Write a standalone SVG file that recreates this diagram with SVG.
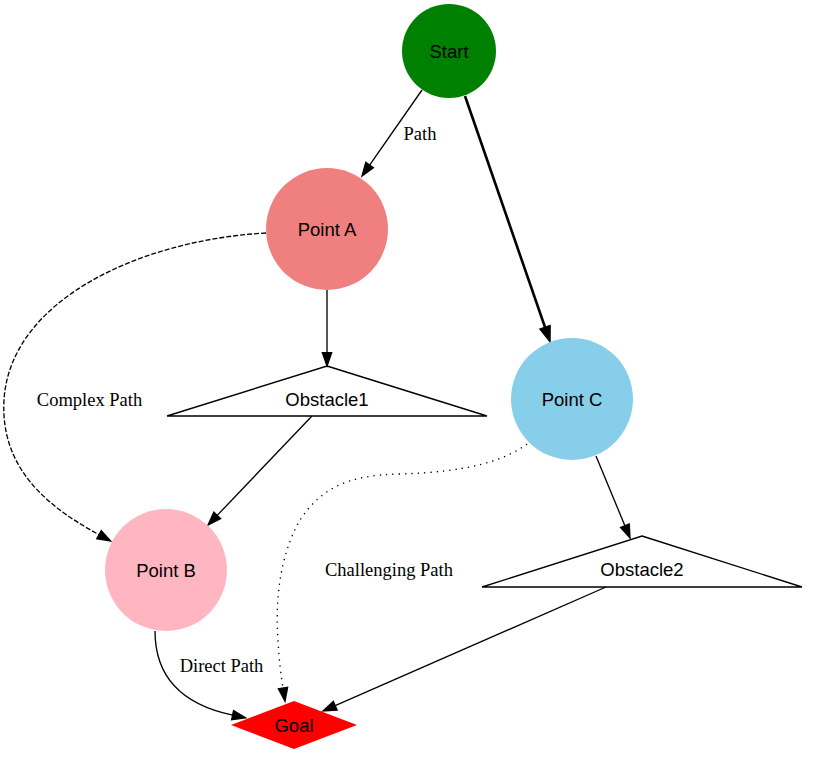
<svg xmlns="http://www.w3.org/2000/svg" width="813" height="760" viewBox="0 0 813 760">
<style>
.nl{font-family:"Liberation Sans",Arial,sans-serif;font-size:18.5px;text-anchor:middle;fill:#000}
.el{font-family:"Liberation Serif","Times New Roman",serif;font-size:18.5px;text-anchor:middle;fill:#000}
.e{fill:none;stroke:#000;stroke-width:1.33}
</style>
<defs>
<marker id="ah" markerUnits="userSpaceOnUse" markerWidth="15" markerHeight="11" refX="0" refY="4.67" orient="auto" overflow="visible">
<path d="M0,0 L13.3,4.67 L0,9.33 z" fill="#000" stroke="#000" stroke-width="1.33"/>
</marker>
<marker id="ahb" markerUnits="userSpaceOnUse" markerWidth="15" markerHeight="11" refX="0" refY="4.67" orient="auto" overflow="visible">
<path d="M0,0 L13.3,4.67 L0,9.33 z" fill="#000" stroke="#000" stroke-width="2.4"/>
</marker>
</defs>
<rect width="813" height="760" fill="#fff"/>
<g id="edges">
<path class="e" d="M422,90 L369.6,165.1" marker-end="url(#ah)"/>
<text class="el" x="420" y="140">Path</text>
<path class="e" d="M465,96 L545.2,327.8" style="stroke-width:2.6" marker-end="url(#ahb)"/>
<path class="e" d="M327,290 L327,352.7" marker-end="url(#ah)"/>
<path class="e" d="M266,233 C140,240 10,300 4,400 C0,470 50,508 99,534.7" stroke-dasharray="5,2" marker-end="url(#ah)"/>
<text class="el" x="89.5" y="406">Complex Path</text>
<path class="e" d="M312,416 L217.2,515.4" marker-end="url(#ah)"/>
<path class="e" d="M596,456 L624.9,525.7" marker-end="url(#ah)"/>
<path class="e" d="M527,444 C505,460 470,472 400,474 C345,475 320,490 300,520 C280,555 275,600 278,640 C279,660 281,675 283,688" stroke-dasharray="1.3,5" marker-end="url(#ah)"/>
<text class="el" x="389" y="576">Challenging Path</text>
<path class="e" d="M155,631 C155,670 175,703 232.6,715.1" marker-end="url(#ah)"/>
<text class="el" x="221.5" y="672">Direct Path</text>
<path class="e" d="M606,587 L335.2,705.7" marker-end="url(#ah)"/>
</g>
<g id="start">
<circle cx="449" cy="51" r="47" fill="#008000"/>
<text class="nl" x="449" y="58">Start</text>
</g>
<g id="pointA">
<circle cx="327" cy="229" r="61" fill="#F08080"/>
<text class="nl" x="327" y="236">Point A</text>
</g>
<g id="pointC">
<circle cx="572" cy="399" r="61" fill="#87CEEB"/>
<text class="nl" x="572" y="406">Point C</text>
</g>
<g id="obstacle1">
<polygon points="327,366 487,416 167,416" fill="none" stroke="#000" stroke-width="1.33"/>
<text class="nl" x="327" y="406">Obstacle1</text>
</g>
<g id="pointB">
<circle cx="166" cy="570" r="61" fill="#FFB6C1"/>
<text class="nl" x="166" y="577">Point B</text>
</g>
<g id="obstacle2">
<polygon points="642,536 802,587 482,587" fill="none" stroke="#000" stroke-width="1.33"/>
<text class="nl" x="642" y="576">Obstacle2</text>
</g>
<g id="goal">
<polygon points="294,701 357,725 294,749 231,725" fill="#FF0000"/>
<text class="nl" x="294" y="732">Goal</text>
</g>
</svg>
